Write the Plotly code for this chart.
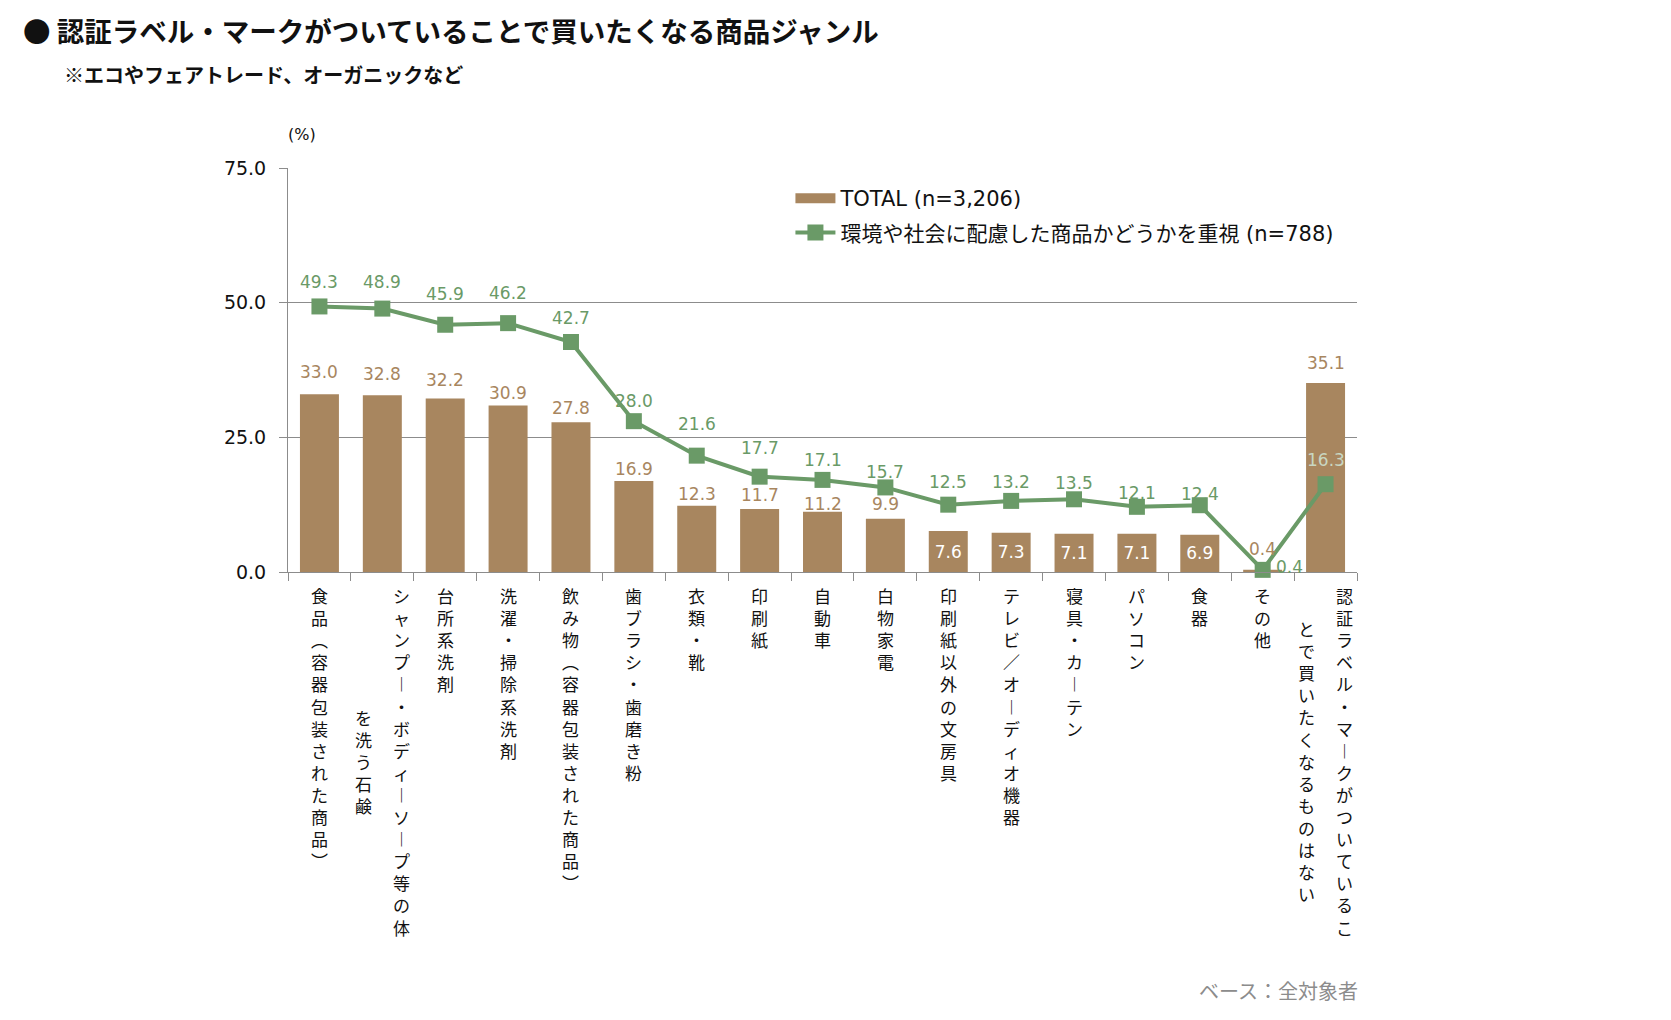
import plotly.graph_objects as go

# ---------------- data ----------------
categories = [
    "食品（容器包装された商品）",
    "シャンプー・ボディーソープ等の体を洗う石鹸",
    "台所系洗剤",
    "洗濯・掃除系洗剤",
    "飲み物（容器包装された商品）",
    "歯ブラシ・歯磨き粉",
    "衣類・靴",
    "印刷紙",
    "自動車",
    "白物家電",
    "印刷紙以外の文房具",
    "テレビ／オーディオ機器",
    "寝具・カーテン",
    "パソコン",
    "食器",
    "その他",
    "認証ラベル・マークがついていることで買いたくなるものはない",
]
total_values = [33.0, 32.8, 32.2, 30.9, 27.8, 16.9, 12.3, 11.7, 11.2, 9.9,
                7.6, 7.3, 7.1, 7.1, 6.9, 0.4, 35.1]
eco_values = [49.3, 48.9, 45.9, 46.2, 42.7, 28.0, 21.6, 17.7, 17.1, 15.7,
              12.5, 13.2, 13.5, 12.1, 12.4, 0.4, 16.3]
series_names = ["TOTAL (n=3,206)", "環境や社会に配慮した商品かどうかを重視 (n=788)"]
y_ticks = [0, 25, 50, 75]

title_text = "● 認証ラベル・マークがついていることで買いたくなる商品ジャンル"
subtitle_text = "※エコやフェアトレード、オーガニックなど"
unit_text = "(%)"
note_text = "ベース：全対象者"

# ---------------- style ----------------
FONT = "Noto Sans CJK JP"
MIX = "DejaVu Sans, Noto Sans CJK JP"
BAR_COLOR = "#A8865F"
LINE_COLOR = "#6A9A67"
GRID = "#8C8C8C"

n_cat = len(categories)
inside_idx = {10, 11, 12, 13, 14}          # bars whose label sits inside
bar_pos = ["inside" if i in inside_idx else "none" for i in range(n_cat)]
# label offsets (px) above bar top / marker centre, as placed in the original
bar_label_shift = [22, 21, 18.5, 13, 14, 11.5, 11.7, 14, 8, 14.5,
                   0, 0, 0, 0, 0, 21, 20]
line_label_shift = [24, 26.4, 30.5, 30, 23.7, 20, 32, 28.8, 19.7, 15.6,
                    22.5, 18.7, 16, 13.6, 11.7, 3, 24]
line_label_xshift = [0] * n_cat
line_label_xshift[15] = 27
line_txt_col = [LINE_COLOR] * n_cat
line_txt_col[16] = "#C9D7C2"

fig = go.Figure()
fig.add_trace(go.Bar(
    x=categories, y=total_values, name=series_names[0],
    marker=dict(color=BAR_COLOR, line=dict(width=0)),
    texttemplate="%{y:.1f}", textposition=bar_pos,
    textfont=dict(color="white", size=17, family=MIX),
    insidetextanchor="middle", constraintext="none", cliponaxis=False,
    showlegend=False,
))
# legend swatch for the bars (wide rectangle, as in the original)
fig.add_trace(go.Scatter(
    x=[None], y=[None], name=series_names[0], mode="lines",
    line=dict(color=BAR_COLOR, width=13), legendgroup="a",
))
fig.add_trace(go.Scatter(
    x=categories, y=eco_values, name=series_names[1],
    mode="lines+markers",
    line=dict(color=LINE_COLOR, width=4),
    marker=dict(symbol="square", size=16, color=LINE_COLOR),
    cliponaxis=False, legendgroup="b",
))

annotations = []
# bar value labels above the bars
for i, (cat, v) in enumerate(zip(categories, total_values)):
    if i in inside_idx:
        continue
    annotations.append(dict(
        x=cat, xref="x", y=v, yref="y", yanchor="middle", xanchor="center",
        text=f"{v:.1f}", showarrow=False, yshift=bar_label_shift[i],
        font=dict(size=17, color=BAR_COLOR, family=MIX),
    ))
# line value labels
for i, (cat, v) in enumerate(zip(categories, eco_values)):
    annotations.append(dict(
        x=cat, xref="x", y=v, yref="y", yanchor="middle", xanchor="center",
        text=f"{v:.1f}", showarrow=False, yshift=line_label_shift[i],
        xshift=line_label_xshift[i],
        font=dict(size=17, color=line_txt_col[i], family=MIX),
    ))

# ---------------- vertical category labels ----------------
VMAP = {"（": "︵", "）": "︶", "ー": "︱"}
COL_LEN = 16
LABEL_SIZE = 17
LINE_H = LABEL_SIZE * 1.3
for cat in categories:
    cols = [cat[i:i + COL_LEN] for i in range(0, len(cat), COL_LEN)]
    n = len(cols)
    for j, col in enumerate(cols):
        txt = "<br>".join(VMAP.get(ch, ch) for ch in col)
        xshift = (n - 1) * 19 - j * 38 if n > 1 else 0
        yshift = -9 - (len(cols[0]) - len(col)) / 2 * LINE_H
        annotations.append(dict(
            x=cat, xref="x", y=0, yref="paper", yanchor="top", xanchor="center",
            text=txt, showarrow=False, xshift=xshift, yshift=yshift,
            font=dict(size=LABEL_SIZE, color="#111111", family=FONT),
        ))

annotations += [
    dict(text=subtitle_text, x=-0.2114, xref="paper", xanchor="left",
         y=1.2313, yref="paper", yanchor="middle", showarrow=False,
         font=dict(size=20, color="#111111", family=FONT, weight=700)),
    dict(text=unit_text, x=0.013, xref="paper", xanchor="center",
         y=1.0826, yref="paper", yanchor="middle", showarrow=False,
         font=dict(size=16, color="#111111", family=MIX)),
    dict(text=note_text, x=1.003, xref="paper", xanchor="right",
         y=-1.037, yref="paper", yanchor="middle", showarrow=False,
         font=dict(size=20, color="#8C8C8C", family=FONT)),
]

fig.update_layout(
    width=1671, height=1020,
    margin=dict(l=288, r=314, t=168, b=448, pad=0),
    paper_bgcolor="white", plot_bgcolor="white",
    font=dict(family=FONT, color="#111111"),
    title=dict(text=title_text, x=0.0138, xanchor="left", xref="container",
               y=1 - 32 / 1020, yanchor="middle", yref="container",
               font=dict(size=27.5, color="#111111", family=FONT, weight=700)),
    bargap=0.38,
    showlegend=True,
    legend=dict(x=0.47, xanchor="left", y=0.975, yanchor="top",
                font=dict(size=21, color="#111111", family=MIX),
                bgcolor="rgba(0,0,0,0)", traceorder="grouped",
                tracegroupgap=4, itemwidth=40),
    annotations=annotations,
)
fig.update_xaxes(
    range=[-0.5, n_cat - 0.5],
    showticklabels=False, ticks="outside", tickson="boundaries", ticklen=8,
    tickcolor=GRID, showline=True, linecolor=GRID, linewidth=1,
    showgrid=False,
)
fig.update_yaxes(
    range=[0, 75], tickvals=y_ticks, tickformat=".1f",
    ticks="outside", ticklen=8, tickcolor=GRID, ticklabelstandoff=9,
    showline=True, linecolor=GRID, linewidth=1,
    showgrid=True, gridcolor=GRID, gridwidth=1, zeroline=False,
    tickfont=dict(size=19, color="#111111", family=MIX),
)

fig.write_html("out.html")
